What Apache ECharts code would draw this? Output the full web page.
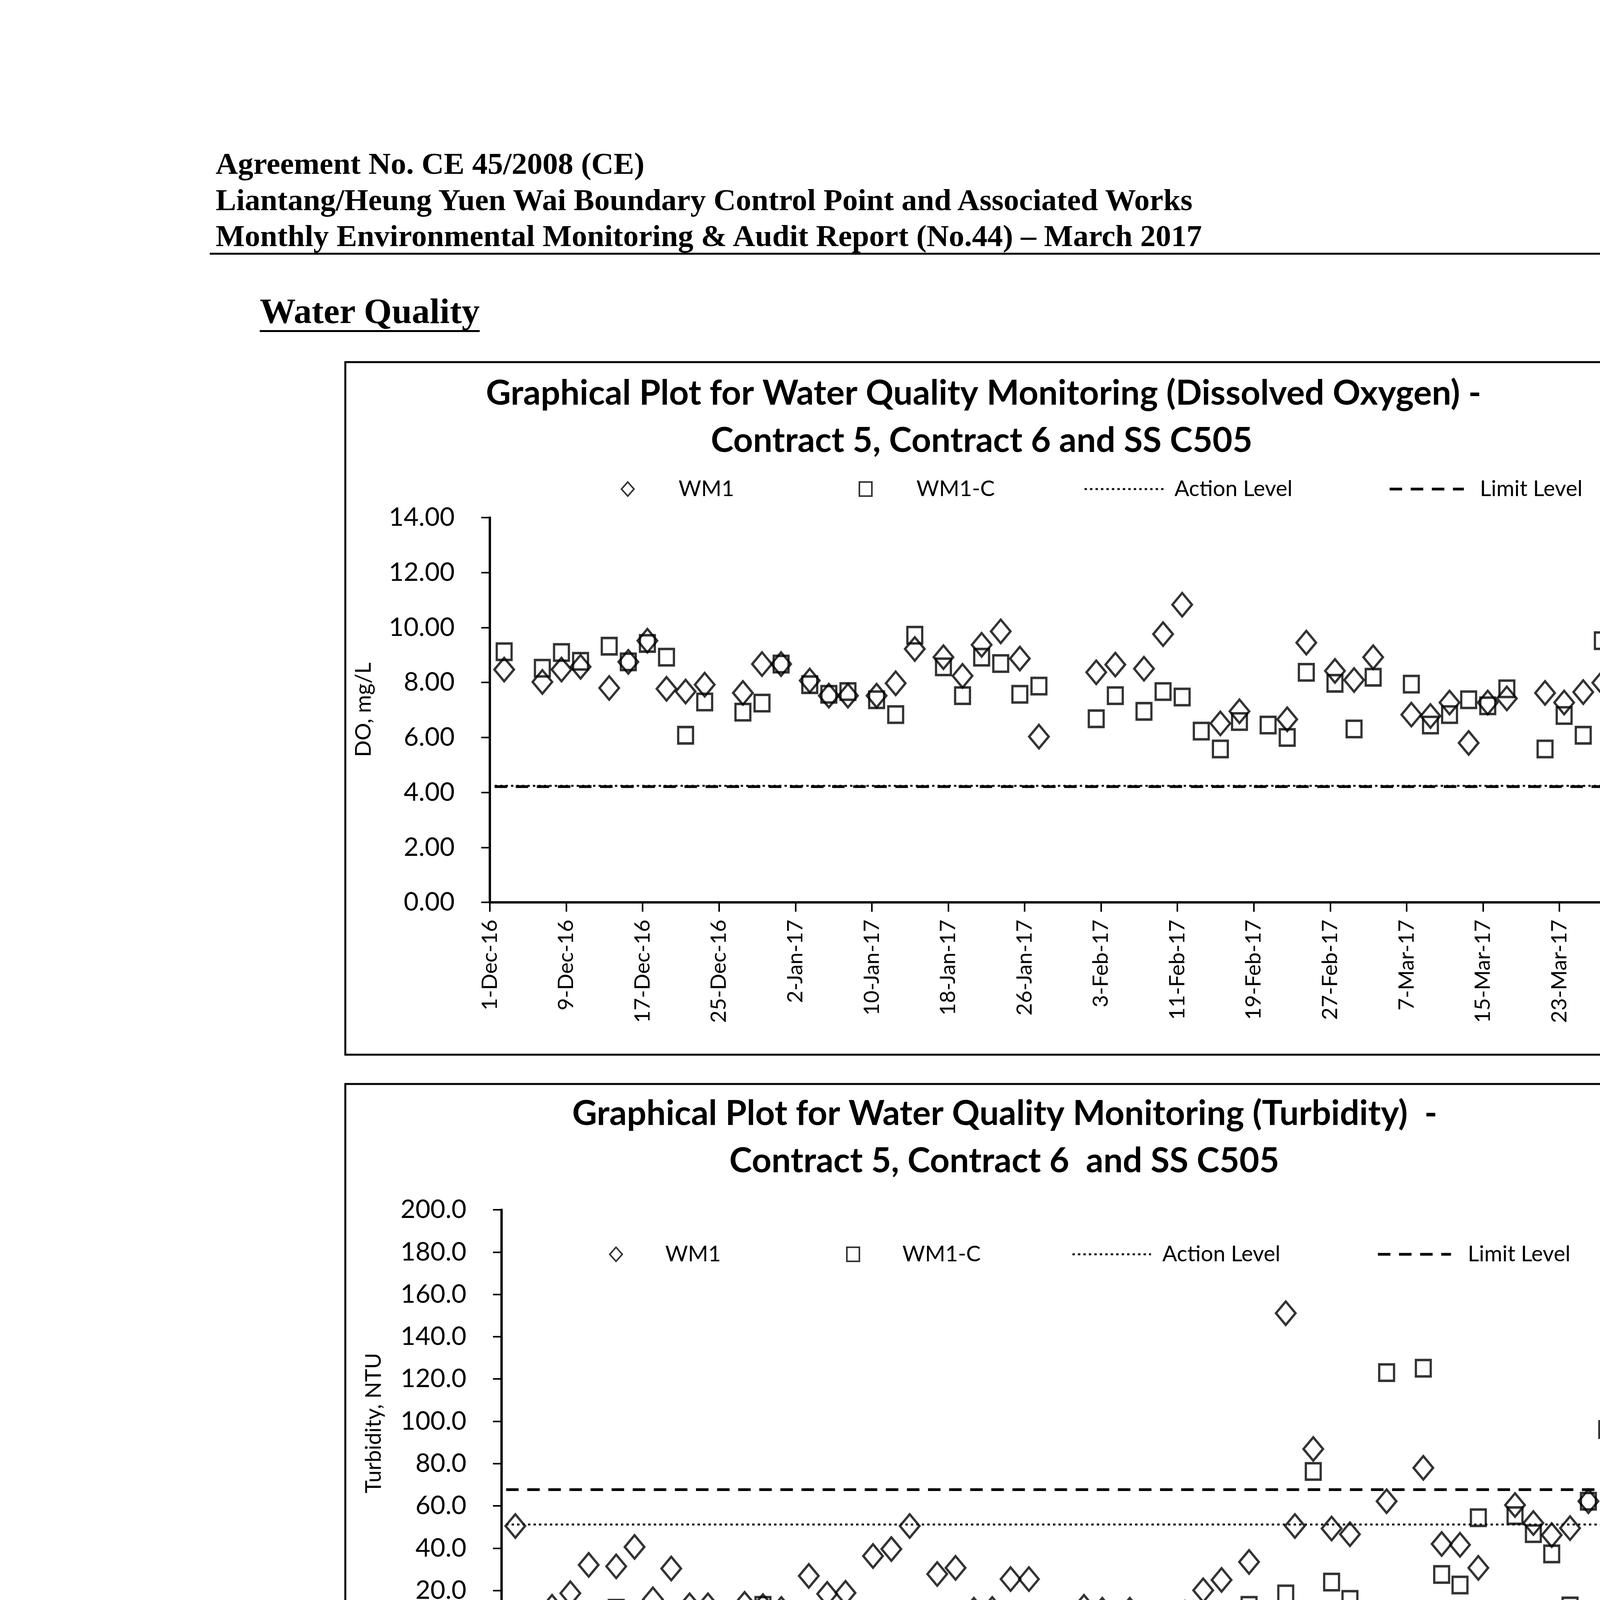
<!DOCTYPE html>
<html>
<head>
<meta charset="utf-8">
<script src="https://cdn.jsdelivr.net/npm/echarts@6/dist/echarts.min.js"></script>
<style>
html,body{margin:0;padding:0;background:#fff;}
#page{position:relative;width:4956px;height:7009px;background:#fff;overflow:hidden;}
#deco{position:absolute;left:0;top:0;}
.chart{position:absolute;}
</style>
</head>
<body>
<div id="page">
<svg id="deco" width="4956" height="7009" viewBox="0 0 4956 7009">
  <g font-family="'Liberation Serif','Times New Roman',serif" font-weight="bold" font-size="79" fill="#000">
    <text x="552" y="445">Agreement No. CE 45/2008 (CE)</text>
    <text x="552" y="538">Liantang/Heung Yuen Wai Boundary Control Point and Associated Works</text>
    <text x="552" y="630">Monthly Environmental Monitoring &amp; Audit Report (No.44) – March 2017</text>
  </g>
  <rect x="537" y="647" width="4320" height="5" fill="#000"/>
  <text id="wq" x="665" y="827" font-family="'Liberation Serif','Times New Roman',serif" font-weight="bold" font-size="92" fill="#000">Water Quality</text>
  <rect id="wqu" x="665" y="845" width="570" height="5" fill="#000"/>
  <rect x="884" y="927" width="3466" height="1773" fill="none" stroke="#000" stroke-width="5"/>
  <rect x="884" y="2775" width="3466" height="1768" fill="none" stroke="#000" stroke-width="5"/>
  <rect x="884" y="4767" width="3466" height="1765" fill="none" stroke="#000" stroke-width="5"/>
  <rect x="649" y="6681" width="3939" height="4" fill="#000"/>
  <text x="671" y="6755" font-family="'Liberation Serif','Times New Roman',serif" font-size="63" fill="#000">Z:\Jobs\2013\TCS00694\600\EM&amp;A Report\Monthly EM&amp;A Report\44th (March 2017)\R0923v2.docx</text>
</svg>
<div id="c1" class="chart" style="left:884px;top:927px;width:3466px;height:1773px"></div>
<div id="c2" class="chart" style="left:884px;top:2775px;width:3466px;height:1768px"></div>
<div id="c3" class="chart" style="left:884px;top:4767px;width:3466px;height:1765px"></div>
</div>
<script>
// ---------------- DATA ----------------
const periodStart = '2016-12-01';
const periodEnd = '2017-03-31';
const xTickDates = ['2016-12-01','2016-12-09','2016-12-17','2016-12-25','2017-01-02','2017-01-10','2017-01-18','2017-01-26','2017-02-03','2017-02-11','2017-02-19','2017-02-27','2017-03-07','2017-03-15','2017-03-23','2017-03-31'];
const xTickLabels = ['1-Dec-16','9-Dec-16','17-Dec-16','25-Dec-16','2-Jan-17','10-Jan-17','18-Jan-17','26-Jan-17','3-Feb-17','11-Feb-17','19-Feb-17','27-Feb-17','7-Mar-17','15-Mar-17','23-Mar-17','31-Mar-17'];

// Dissolved Oxygen (mg/L)
const doDates = ['2016-12-02','2016-12-06','2016-12-08','2016-12-10','2016-12-13','2016-12-15','2016-12-17','2016-12-19','2016-12-21','2016-12-23','2016-12-27','2016-12-29','2016-12-31',
  '2017-01-03','2017-01-05','2017-01-07','2017-01-10','2017-01-12','2017-01-14','2017-01-17','2017-01-19','2017-01-21','2017-01-23','2017-01-25','2017-01-27',
  '2017-02-02','2017-02-04','2017-02-07','2017-02-09','2017-02-11','2017-02-13','2017-02-15','2017-02-17','2017-02-20','2017-02-22','2017-02-24','2017-02-27',
  '2017-03-01','2017-03-03','2017-03-07','2017-03-09','2017-03-11','2017-03-13','2017-03-15','2017-03-17','2017-03-21','2017-03-23','2017-03-25','2017-03-27','2017-03-29','2017-03-31'];
const doWM1 = [8.47,8.02,8.47,8.57,7.80,8.75,9.52,7.77,7.67,7.92,7.62,8.67,8.67,
  8.07,7.52,7.52,7.52,7.97,9.22,8.92,8.24,9.37,9.86,8.87,6.03,
  8.37,8.65,8.50,9.76,10.83,null,6.51,6.95,null,6.66,9.45,8.42,
  8.09,8.92,6.83,6.78,7.27,5.80,7.27,7.42,7.62,7.27,7.65,7.99,6.45,7.37];
const doWM1C = [9.12,8.52,9.09,8.77,9.32,8.75,9.42,8.92,6.08,7.29,6.92,7.25,8.67,
  7.92,7.57,7.67,7.37,6.83,9.72,8.57,7.52,8.92,8.69,7.57,7.87,
  6.68,7.52,6.95,7.67,7.47,6.23,5.58,6.58,6.45,6.00,8.37,7.97,
  6.31,8.19,7.94,6.45,6.83,7.37,7.15,7.77,5.58,6.80,6.08,9.52,7.29,6.83];
const doActionLevel = 4.24;
const doLimitLevel = 4.21;

// Turbidity (NTU)
const turbDates = ['2016-12-02','2016-12-06','2016-12-08','2016-12-10','2016-12-13','2016-12-15','2016-12-17','2016-12-19','2016-12-21','2016-12-23','2016-12-27','2016-12-29','2016-12-31',
  '2017-01-03','2017-01-05','2017-01-07','2017-01-10','2017-01-12','2017-01-14','2017-01-17','2017-01-19','2017-01-21','2017-01-23','2017-01-25','2017-01-27',
  '2017-02-02','2017-02-04','2017-02-07','2017-02-09','2017-02-11','2017-02-13','2017-02-15','2017-02-17','2017-02-20','2017-02-24','2017-02-25','2017-02-27',
  '2017-03-01','2017-03-03','2017-03-07','2017-03-11','2017-03-13','2017-03-15','2017-03-17','2017-03-21','2017-03-23','2017-03-25','2017-03-27','2017-03-29','2017-03-31'];
const turbWM1 = [50.5,12.3,18.7,32.1,31.4,40.6,15.8,30.4,13.0,13.0,13.7,12.6,11.3,
  26.9,18.4,18.9,36.3,39.6,50.5,27.8,30.7,10.9,11.3,25.4,25.4,
  12.3,10.9,10.9,6.6,7.4,9.5,20.1,25.0,33.5,151.1,50.5,86.9,
  49.3,46.6,62.2,78.0,42.0,41.6,30.7,60.4,51.9,46.2,49.5,62.2,null];
const turbWM1C = [5.7,5.2,7.1,5.9,11.6,5.2,4.2,4.2,4.5,3.8,7.6,13.0,3.4,
  3.8,5.7,4.2,4.5,4.5,4.5,3.8,4.2,4.2,4.5,4.2,7.0,
  7.4,10.9,6.6,5.2,4.2,4.2,5.9,7.6,13.0,18.4,9.2,76.3,
  24.0,15.8,123.0,125.1,27.6,22.6,54.4,55.4,46.9,37.3,12.7,62.2,96.1];
const turbActionLevel = 51.2;
const turbLimitLevel = 67.7;

// Suspended Solids (mg/L)
const ssDates = ['2016-12-02','2016-12-06','2016-12-08','2016-12-10','2016-12-13','2016-12-15','2016-12-17','2016-12-19','2016-12-21','2016-12-23','2016-12-27','2016-12-29','2016-12-31',
  '2017-01-03','2017-01-05','2017-01-07','2017-01-10','2017-01-12','2017-01-14','2017-01-17','2017-01-19','2017-01-21','2017-01-23','2017-01-25','2017-01-27',
  '2017-02-02','2017-02-04','2017-02-07','2017-02-09','2017-02-11','2017-02-13','2017-02-15','2017-02-17','2017-02-20','2017-02-24','2017-02-25','2017-02-27',
  '2017-03-01','2017-03-03','2017-03-07','2017-03-09','2017-03-11','2017-03-13','2017-03-15','2017-03-17','2017-03-21','2017-03-23','2017-03-25','2017-03-27','2017-03-29','2017-03-31'];
const ssWM1 = [48.6,14.9,19.9,31.9,31.9,40.3,16.6,29.1,13.0,10.0,10.7,29.4,10.7,
  22.2,16.9,18.9,38.3,38.3,40.6,25.3,33.0,4.9,9.2,19.2,25.3,
  13.8,6.1,5.4,3.1,3.1,8.4,14.6,18.1,38.6,123.4,39.1,80.0,
  42.6,49.8,41.1,null,null,null,null,null,null,null,null,null,null,null];
const ssWM1C = [3.1,3.8,2.8,0,0,3.1,3.4,0,4.1,2.8,3.8,2.3,3.1,
  4.6,2.3,0,3.1,0,2.3,2.3,0,0,0,0,8.1,
  5.4,13.0,2.3,0,0,0,3.1,6.1,3.4,8.4,6.1,69.0,
  19.9,17.2,166.3,157.1,160.9,21.1,18.1,47.2,34.2,28.8,33.0,4.3,56.2,105.3];
const ssActionLevel = null;
const ssLimitLevel = 64.8;

// ---------------- HELPERS ----------------
const BASE = Date.UTC(2016, 11, 1);
function dayOf(s){ const p = s.split('-').map(Number); return (Date.UTC(p[0], p[1]-1, p[2]) - BASE) / 86400000; }
// Excel date axis, "between tick marks": a day's value sits in the middle of its day slot
function xOf(s){ return dayOf(s) + 0.5; }
function pts(dates, vals){ const out = []; dates.forEach((d,i)=>{ if (vals[i] != null) out.push([xOf(d), vals[i]]); }); return out; }
function levelLine(v){ return v == null ? [] : [[xOf(periodStart), v], [xOf(periodEnd), v]]; }
const tickX = xTickDates.map(dayOf);
const tickLabelMap = {}; tickX.forEach((v,i)=>{ tickLabelMap[v] = xTickLabels[i]; });

const FONT = 'Lato';

// legends: [left, itemWidth, textPaddingLeft]
const CHARTS = [
  { el:'c1', grid:[370,398,2958,985], ymax:14, yint:2, dec:2, xMargin:44,
    titles:[['Graphical Plot for Water Quality Monitoring (Dissolved Oxygen) -',1634,107],['Contract 5, Contract 6 and SS C505',1629,228]],
    yName:['DO, mg/L',47,890], date:[3423,1352], legendY:315,
    legends:[[705,32,109],[1314,32,109],[1890,207,18],[2670,190,36]],
    dates:doDates, wm1:doWM1, wm1c:doWM1C, action:doActionLevel, limit:doLimitLevel },
  { el:'c2', grid:[400,322,2841,1083], ymax:200, yint:20, dec:1, xMargin:45,
    titles:[['Graphical Plot for Water Quality Monitoring (Turbidity)  -',1688,103],['Contract 5, Contract 6  and SS C505',1687,224]],
    yName:['Turbidity, NTU',73,868], date:[3423,1377], legendY:426,
    legends:[[675,32,105],[1282,32,105],[1859,201,24],[2640,187,38]],
    dates:turbDates, wm1:turbWM1, wm1c:turbWM1C, action:turbActionLevel, limit:turbLimitLevel },
  { el:'c3', grid:[381,367,2880,999], ymax:200, yint:20, dec:1, xMargin:48,
    titles:[['Graphical Plot for Water Quality Monitoring (Suspended Solids) -',1761,107],['Contract 5, Contract 6  and SS C505',1752,228]],
    yName:['SS, mg/L',49,866], date:[3423,1373], legendY:295,
    legends:[[550,32,109],[996,32,103],[1405,190,29],[2017,187,37]],
    dates:ssDates, wm1:ssWM1, wm1c:ssWM1C, action:ssActionLevel, limit:ssLimitLevel }
];

function txt(style){ return Object.assign({ fill:'#000' }, style, {
  align: style.align, verticalAlign: style.verticalAlign,
  textAlign: style.align, textVerticalAlign: style.verticalAlign }); }

function build(c){
  const chart = echarts.init(document.getElementById(c.el), null, { renderer:'canvas' });
  const names = ['WM1','WM1-C','Action Level','Limit Level'];
  const legends = c.legends.map((L,i)=>{
    const o = { data:[names[i]], left:L[0], top:c.legendY - 18, itemWidth:L[1], itemHeight:36,
      padding:0, itemGap:0, selectedMode:false, orient:'horizontal',
      textStyle:{ fontFamily:FONT, fontSize:56, color:'#000', padding:[0,0,0,L[2]] } };
    if (i < 2) {
      o.itemStyle = { borderWidth:4, borderColor:'#000', color:'rgba(0,0,0,0)' };
    } else {
      o.lineStyle = { width: i === 2 ? 5 : 7, color:'#000' };
      o.itemStyle = { color:'rgba(0,0,0,0)', borderColor:'rgba(0,0,0,0)', borderWidth:0 };
    }
    return o;
  });
  const graphic = [];
  c.titles.forEach(t=>{
    graphic.push({ type:'text', x:t[1], y:t[2] - 26, silent:true,
      style: txt({ text:t[0], font:'bold 88px ' + FONT, align:'center', verticalAlign:'middle' }) });
  });
  graphic.push({ type:'text', x:c.yName[1], y:c.yName[2], rotation:Math.PI/2, silent:true,
    style: txt({ text:c.yName[0], font:'56px ' + FONT, align:'center', verticalAlign:'middle' }) });
  graphic.push({ type:'text', x:c.date[0], y:c.date[1] - 20, silent:true,
    style: txt({ text:'Date', font:'68px ' + FONT, align:'right', verticalAlign:'middle' }) });

  chart.setOption({
    animation:false,
    backgroundColor:'transparent',
    textStyle:{ fontFamily:FONT, color:'#000' },
    grid:{ left:c.grid[0], top:c.grid[1], width:c.grid[2], height:c.grid[3], containLabel:false, outerBoundsMode:'none' },
    xAxis:{ type:'value', min:0, max:121, interval:8,
      axisLine:{ show:true, onZero:false, lineStyle:{ color:'#000', width:6 } },
      axisTick:{ show:true, inside:false, length:24, customValues:tickX, lineStyle:{ color:'#000', width:4 } },
      axisLabel:{ show:true, customValues:tickX, rotate:90, margin:c.xMargin, fontSize:55, fontFamily:FONT, color:'#000',
        hideOverlap:false, showMinLabel:true, showMaxLabel:true,
        formatter: v => (tickLabelMap[v] !== undefined ? tickLabelMap[v] : '') },
      splitLine:{ show:false } },
    yAxis:{ type:'value', min:0, max:c.ymax, interval:c.yint,
      axisLine:{ show:true, onZero:false, lineStyle:{ color:'#000', width:6 } },
      axisTick:{ show:true, inside:false, length:22, lineStyle:{ color:'#000', width:4 } },
      axisLabel:{ show:true, margin:90, fontSize:66, fontFamily:FONT, color:'#000',
        showMinLabel:true, showMaxLabel:true, formatter: v => Number(v).toFixed(c.dec) },
      splitLine:{ show:false } },
    legend: legends,
    graphic: graphic,
    series:[
      { type:'scatter', name:'WM1', data:pts(c.dates, c.wm1), symbol:'diamond', symbolSize:[50,60], silent:true,
        itemStyle:{ color:'rgba(0,0,0,0)', borderColor:'#000', borderWidth:6 }, emphasis:{ disabled:true }, z:3 },
      { type:'scatter', name:'WM1-C', data:pts(c.dates, c.wm1c), symbol:'rect', symbolSize:[38,42], silent:true,
        itemStyle:{ color:'rgba(0,0,0,0)', borderColor:'#000', borderWidth:6 }, emphasis:{ disabled:true }, z:3 },
      { type:'line', name:'Action Level', data:levelLine(c.action), symbol:'none', silent:true,
        lineStyle:{ color:'#000', width:5, type:[6,8] }, itemStyle:{ color:'#000' }, emphasis:{ disabled:true }, z:2 },
      { type:'line', name:'Limit Level', data:levelLine(c.limit), symbol:'none', silent:true,
        lineStyle:{ color:'#000', width:7, type:[32,22] }, itemStyle:{ color:'#000' }, emphasis:{ disabled:true }, z:2 }
    ]
  });
}
CHARTS.forEach(build);

// underline width for "Water Quality"
try {
  const w = document.getElementById('wq').getComputedTextLength();
  document.getElementById('wqu').setAttribute('width', w);
} catch(e) {}
</script>
</body>
</html>
